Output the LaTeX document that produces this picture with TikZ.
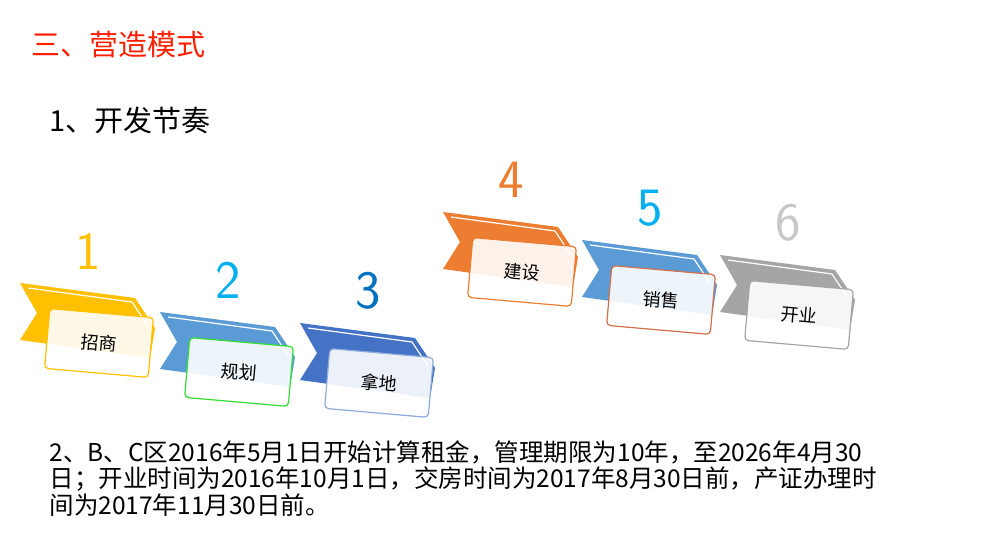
\documentclass[tikz,border=0pt]{standalone}
\usepackage{fontspec}
\newfontfamily\cjk{Noto Sans CJK SC}
\usetikzlibrary{positioning}
\definecolor{cYellow}{HTML}{FFC000}
\definecolor{cLblue}{HTML}{5B9BD5}
\definecolor{cBlue}{HTML}{4472C4}
\definecolor{cOrange}{HTML}{ED7D31}
\definecolor{cGray}{HTML}{A5A5A5}
\definecolor{cCyan}{HTML}{00B0F0}
\definecolor{cDblue}{HTML}{0070C0}
\definecolor{cGreen}{HTML}{33DD33}
\definecolor{cRust}{HTML}{D0704D}
\definecolor{cSilver}{HTML}{C8C8C8}
\definecolor{cTitle}{HTML}{FF2000}
\newcommand{\stepribbon}[7]{% name, x, y, ribbon colour, box colour, number colour, label
  \begin{scope}[shift={(#2,#3)}]
    \fill[#4] (0,0) -- (115,15) -- (135,45) -- (130,75) -- (0,57) -- (17,30) -- cycle;
    \draw[white,line width=1.2pt] (8,5) -- (112,19) -- (128,43);
    \node[box,draw=#5] (#1) at (79,60) {#7};
    \node[num,text=#6] (#1n) at (68,-32) {\stepnum};
  \end{scope}}
\begin{document}
\begin{tikzpicture}[x=1pt,y=-1pt,
    box/.style={rounded corners=4pt,fill=white,fill opacity=0.9,text opacity=1,
      line width=1.2pt,minimum width=104pt,minimum height=60pt,rotate=-5,
      font=\cjk\fontsize{18}{20}\selectfont},
    num/.style={font=\sffamily\fontsize{54}{54}\selectfont},
    txt/.style={anchor=west,font=\cjk\fontsize{20}{25}\selectfont}]
  \useasboundingbox[fill=white] (0,0) rectangle (990,540);
  \node[txt,text=cTitle,font=\cjk\fontsize{29}{32}\selectfont] (title) at (28,45) {三、营造模式};
  \node[txt,font=\cjk\fontsize{29}{32}\selectfont] (sub) at (46,120) {1、开发节奏};
  \def\stepnum{1}\stepribbon{s1}{20}{283}{cYellow}{cYellow}{cYellow}{招商}
  \def\stepnum{2}\stepribbon{s2}{160}{312}{cLblue}{cGreen}{cCyan}{规划}
  \def\stepnum{3}\stepribbon{s3}{300}{323}{cBlue}{cBlue!60}{cDblue}{拿地}
  \def\stepnum{4}\stepribbon{s4}{443}{212}{cOrange}{cOrange}{cOrange}{建设}
  \def\stepnum{5}\stepribbon{s5}{582}{240}{cLblue}{cRust}{cCyan}{销售}
  \def\stepnum{6}\stepribbon{s6}{720}{255}{cGray}{cGray}{cSilver}{开业}
  \node[txt,align=left,anchor=north west,font=\cjk\fontsize{24.5}{26.5}\selectfont] (para) at (46,437)
    {2、B、C区2016年5月1日开始计算租金，管理期限为10年，至2026年4月30\\
     日；开业时间为2016年10月1日，交房时间为2017年8月30日前，产证办理时\\
     间为2017年11月30日前。};
\end{tikzpicture}
\end{document}
